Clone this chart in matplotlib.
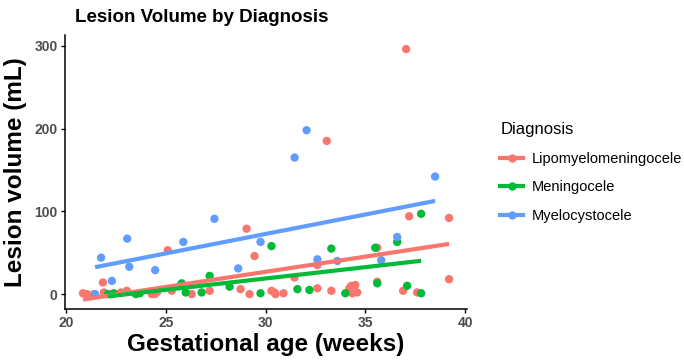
import matplotlib.pyplot as plt
from matplotlib.lines import Line2D
import numpy as np

plt.rcParams['font.family'] = ['Liberation Sans', 'DejaVu Sans']

# gestational age (weeks) and lesion volume (mL) per diagnosis
lipo_age = [20.85, 21.05, 21.4, 21.85, 21.9, 22.3, 22.75, 23.05, 24.3, 24.45, 24.55,
            25.1, 25.3, 26.3, 27.2, 28.75, 29.05, 29.45, 29.2, 30.3, 30.45, 30.5,
            30.9, 31.45, 32.6, 32.6, 33.07, 33.3, 34.2, 34.3, 34.5, 34.35, 34.6,
            35.6, 35.6, 36.9, 37.05, 37.2, 37.6, 39.2, 39.2]
lipo_vol = [1, 0, 0, 14, 2, 0, 2, 4, 0, 0, 2,
            53, 4, 0, 4, 6, 79, 46, 0, 4, 2, 0,
            1, 20, 35, 7, 185, 4, 7, 10, 11, 1, 2,
            56, 15, 4, 296, 94, 2, 92, 18]

menin_age = [22.1, 22.4, 23.5, 23.7, 25.8, 26.0, 26.8, 27.2, 28.2, 29.75, 30.3,
             31.6, 32.2, 33.3, 34.0, 35.5, 35.6, 36.6, 37.1, 37.8, 37.8]
menin_vol = [0, 1, 0, 1, 13, 2, 2, 22, 9, 1, 58,
             6, 5, 55, 1, 56, 13, 63, 10, 97, 1]

myelo_age = [21.46, 21.76, 22.3, 23.07, 23.17, 24.47, 25.88, 27.44, 28.63, 29.75,
             31.46, 32.06, 32.6, 33.6, 35.8, 36.6, 38.5]
myelo_vol = [0, 44, 16, 67, 33, 29, 63, 91, 31, 63,
             165, 198, 42, 40, 41, 69, 142]

groups = ['Lipomyelomeningocele', 'Meningocele', 'Myelocystocele']
colors = ['#F8766D', '#00BA38', '#619CFF']
xs = [lipo_age, menin_age, myelo_age]
ys = [lipo_vol, menin_vol, myelo_vol]

W, H = 684, 363
fig = plt.figure(figsize=(W / 100, H / 100), dpi=100)
ax = fig.add_axes([64.6 / W, (H - 309) / H, (467 - 64.6) / W, (309 - 35) / H])

# points first, then the fitted lines on top
for x, y, c in zip(xs, ys, colors):
    ax.scatter(x, y, s=36, color=c, edgecolors='none', zorder=2)
for x, y, c in zip(xs, ys, colors):
    x = np.array(x)
    b, a = np.polyfit(x, np.array(y), 1)
    xx = np.array([x.min(), x.max()])
    ax.plot(xx, a + b * xx, color=c, lw=3, solid_capstyle='butt', zorder=3)

ax.set_xlim(19.93, 40.1)
ax.set_ylim(-18, 313)
ax.set_xticks([20, 25, 30, 35, 40])
ax.set_yticks([0, 100, 200, 300])
for s in ['top', 'right']:
    ax.spines[s].set_visible(False)
for s in ['left', 'bottom']:
    ax.spines[s].set_linewidth(1.1)
ax.tick_params(length=3, width=1, labelsize=10, labelcolor='#4D4D4D', pad=2)
for lab in ax.get_xticklabels() + ax.get_yticklabels():
    lab.set_fontweight('bold')

ax.set_xlabel('Gestational age (weeks)', fontsize=17.5, fontweight='bold', labelpad=2)
ax.set_ylabel('Lesion volume (mL)', fontsize=17.5, fontweight='bold', labelpad=5)
fig.text(75 / W, 1 - 17 / H, 'Lesion Volume by Diagnosis', fontsize=13.5,
         fontweight='bold', ha='left', va='center')

handles = [Line2D([], [], color=c, lw=3, marker='o', markersize=5) for c in colors]
leg = fig.legend(handles, groups, loc='upper left',
                 bbox_to_anchor=(487 / W, 1 - 109 / H), frameon=False,
                 title='Diagnosis', title_fontsize=12, fontsize=10.5,
                 handlelength=1.6, handletextpad=0.6, labelspacing=1.0,
                 alignment='left')

fig.savefig('out.png', dpi=100)
